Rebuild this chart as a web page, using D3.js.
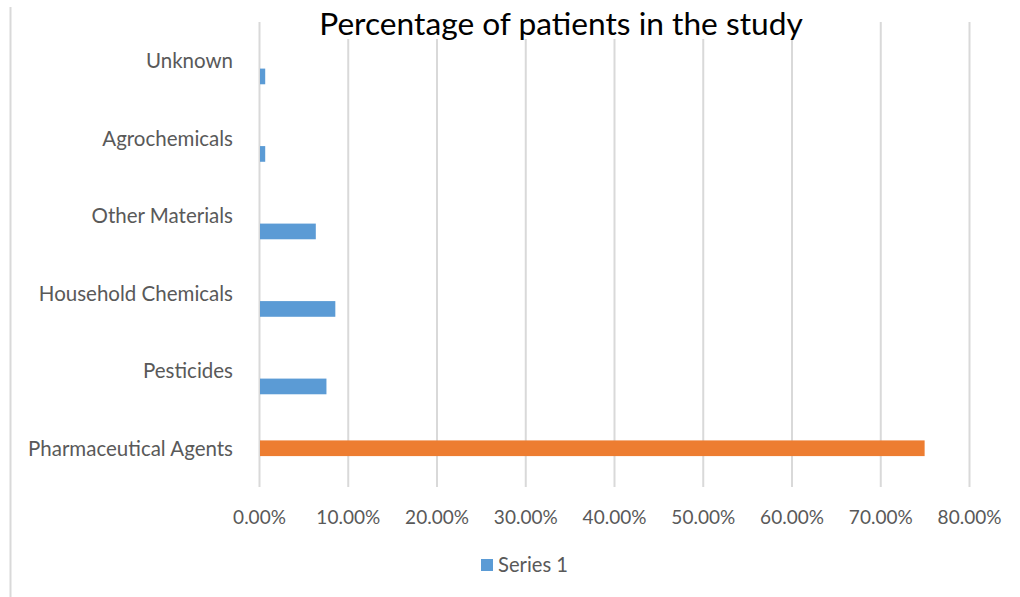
<!DOCTYPE html>
<html>
<head>
<meta charset="utf-8">
<script src="https://cdn.jsdelivr.net/npm/d3@7"></script>
<style>
  body { margin: 0; background: #fff; }
  text { font-family: Lato, "Open Sans", sans-serif; }
</style>
</head>
<body>
<div id="chart"></div>
<script>
// data
const categories = ['Unknown', 'Agrochemicals', 'Other Materials', 'Household Chemicals', 'Pesticides', 'Pharmaceutical Agents'];
const seriesNames = ['Series 3', 'Series 2', 'Series 1']; // top to bottom inside a category
const series1 = [0.007, 0.007, 0.064, 0.086, 0.076, null];
const series2 = [null, null, null, null, null, 0.75];
const xTicks = [0, 0.1, 0.2, 0.3, 0.4, 0.5, 0.6, 0.7, 0.8];

const W = 1020, H = 597;
const plot = { left: 259, right: 969, top: 22, bottom: 487 };
const colors = { 'Series 1': '#5B9BD5', 'Series 2': '#ED7D31' };
const grid = '#D9D9D9', ink = '#595959';

const svg = d3.select('#chart').append('svg')
  .attr('width', W).attr('height', H);

// chart border (only left edge visible)
svg.append('line')
  .attr('x1', 10.5).attr('x2', 10.5).attr('y1', 7).attr('y2', H)
  .attr('stroke', grid).attr('stroke-width', 2);

const x = d3.scaleLinear().domain([0, 0.8]).range([plot.left, plot.right]);
const y = d3.scaleBand().domain(categories).range([plot.top, plot.bottom]).padding(0);
const inner = d3.scaleBand().domain(seriesNames).range([0, y.bandwidth()]).paddingInner(0).paddingOuter(0.97);

// value axis with gridlines
const xAxis = svg.append('g')
  .attr('transform', `translate(0,${plot.bottom})`)
  .call(d3.axisBottom(x).tickValues(xTicks).tickSize(-(plot.bottom - plot.top)).tickFormat(d3.format('.2%')));
xAxis.select('.domain').remove();
xAxis.selectAll('.tick line').attr('stroke', grid).attr('stroke-width', 2);
xAxis.selectAll('.tick text')
  .attr('y', 36.5).attr('dy', 0)
  .attr('fill', ink).attr('font-size', 19);

// category axis
const yAxis = svg.append('g')
  .attr('transform', `translate(${plot.left},0)`)
  .call(d3.axisLeft(y).tickSize(0).tickPadding(26));
yAxis.select('.domain').remove();
yAxis.selectAll('.tick text')
  .attr('dy', '0.36em')
  .attr('fill', ink).attr('font-size', 20.5);

// bars
const rows = [];
categories.forEach((c, i) => {
  if (series1[i] != null) rows.push({ cat: c, s: 'Series 1', v: series1[i] });
  if (series2[i] != null) rows.push({ cat: c, s: 'Series 2', v: series2[i] });
});

svg.append('g').selectAll('rect')
  .data(rows)
  .enter()
  .append('rect')
  .attr('x', x(0) + 1)
  .attr('y', d => y(d.cat) + inner(d.s))
  .attr('width', d => x(d.v) - x(0) - 1)
  .attr('height', inner.bandwidth())
  .attr('fill', d => colors[d.s]);

// title (sits on a white box over the gridlines)
svg.append('rect')
  .attr('x', 312).attr('y', 4).attr('width', 498).attr('height', 35)
  .attr('fill', '#fff');
svg.append('text')
  .attr('x', 561).attr('y', 35)
  .attr('text-anchor', 'middle')
  .attr('fill', '#000').attr('font-size', 31.7)
  .text('Percentage of patients in the study');

// legend
const legend = svg.append('g').attr('transform', 'translate(481,559)');
legend.append('rect').attr('width', 12).attr('height', 12).attr('fill', colors['Series 1']);
legend.append('text')
  .attr('x', 17).attr('y', 13)
  .attr('fill', ink).attr('font-size', 20.2)
  .text('Series 1');
</script>
</body>
</html>
